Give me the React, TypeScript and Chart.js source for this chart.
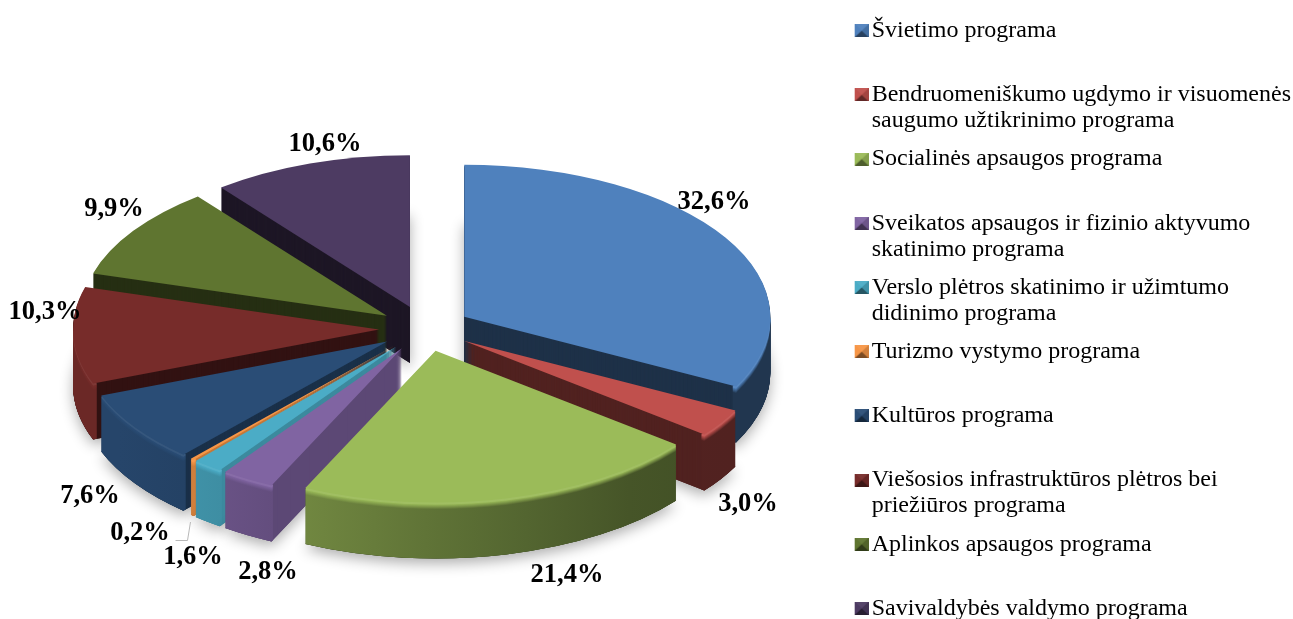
import React, { useEffect, useRef } from "react";
import { Chart, registerables } from "chart.js";

Chart.register(...registerables);

const categories = [
  "Švietimo programa",
  "Bendruomeniškumo ugdymo ir visuomenės saugumo užtikrinimo programa",
  "Socialinės apsaugos programa",
  "Sveikatos apsaugos ir fizinio aktyvumo skatinimo programa",
  "Verslo plėtros skatinimo ir užimtumo didinimo programa",
  "Turizmo vystymo programa",
  "Kultūros programa",
  "Viešosios infrastruktūros plėtros bei priežiūros programa",
  "Aplinkos apsaugos programa",
  "Savivaldybės valdymo programa",
];
const shares = [32.6, 3.0, 21.4, 2.8, 1.6, 0.2, 7.6, 10.3, 9.9, 10.6];

const legendLines = [
  ["Švietimo programa", ""],
  ["Bendruomeniškumo ugdymo ir visuomenės", "saugumo užtikrinimo programa"],
  ["Socialinės apsaugos programa", ""],
  ["Sveikatos apsaugos ir fizinio aktyvumo", "skatinimo programa"],
  ["Verslo plėtros skatinimo ir užimtumo", "didinimo programa"],
  ["Turizmo vystymo programa", ""],
  ["Kultūros programa", ""],
  ["Viešosios infrastruktūros plėtros bei", "priežiūros programa"],
  ["Aplinkos apsaugos programa", ""],
  "Savivaldybės valdymo programa",
];

const sliceColors = ["#4f81bd", "#c0504d", "#9bbb59", "#8064a2", "#4bacc6", "#f79646", "#2a4d76", "#772c2a", "#5f7530", "#4d3b62"];
const wallShade = [0.38, 0.42, 0.4, 0.72, 0.8, 0.8, 0.62, 0.42, 0.4, 0.38];
const labelAnchors = [
  [714, 202], [748, 504], [567, 575], [268, 572], [193, 557],
  [140, 533], [90, 496], [45, 312], [114, 209], [325, 144],
];

const CANVAS_W = 1301;
const CANVAS_H = 640;
const PIE = { cx: 425, cy: 328.5, radius: 306, tilt: 0.496, explode: 46, depth: 56 };
const SERIF = '"Liberation Serif", "Times New Roman", serif';

function rgb(hex: string) {
  return [1, 3, 5].map((i) => parseInt(hex.slice(i, i + 2), 16));
}
function shade(hex: string, m: number) {
  const [r, g, b] = rgb(hex);
  return `rgb(${Math.round(r * m)},${Math.round(g * m)},${Math.round(b * m)})`;
}
function lighten(hex: string, t: number) {
  const [r, g, b] = rgb(hex);
  const f = (v: number) => Math.round(v + (255 - v) * t);
  return `rgb(${f(r)},${f(g)},${f(b)})`;
}
function rimMultiplier(screenX: number) {
  const t = Math.max(0, Math.min(1, (screenX - 100) / 580));
  return 0.9 - 0.48 * t;
}

function legendSwatch(color: string) {
  const c = document.createElement("canvas");
  c.width = 18;
  c.height = 13;
  const g = c.getContext("2d")!;
  g.translate(4, 0);
  const tri = (pts: number[][], fill: string) => {
    g.fillStyle = fill;
    g.beginPath();
    g.moveTo(pts[0][0], pts[0][1]);
    g.lineTo(pts[1][0], pts[1][1]);
    g.lineTo(pts[2][0], pts[2][1]);
    g.closePath();
    g.fill();
  };
  g.fillStyle = color;
  g.fillRect(0, 0, 14, 13);
  const mid = [7, 6.5];
  tri([[0, 0], [14, 0], mid], lighten(color, 0.05));
  tri([[0, 0], [0, 13], mid], color);
  tri([[14, 0], [14, 13], mid], shade(color, 0.85));
  tri([[0, 13], [14, 13], mid], shade(color, 0.5));
  return c;
}

const pie3d = {
  id: "pie3d",
  beforeDatasetDraw(chart: any, args: any) {
    const ctx: CanvasRenderingContext2D = chart.ctx;
    const arcs: any[] = [...args.meta.data];
    const order = arcs
      .map((arc, i) => ({ arc, i, mid: (arc.startAngle + arc.endAngle) / 2 }))
      .sort((a, b) => Math.sin(a.mid) - Math.sin(b.mid));

    for (const { arc, i, mid } of order) {
      const ex = Math.cos(mid) * PIE.explode;
      const ey = Math.sin(mid) * PIE.explode;
      const base = sliceColors[i];
      const place = (lift: number) => {
        ctx.translate(PIE.cx, PIE.cy + lift);
        ctx.scale(1, PIE.tilt);
        ctx.translate(-arc.x + ex, -arc.y + ey);
      };
      const paint = (lift: number, fill: any) => {
        ctx.save();
        place(lift);
        const shim = Object.create(arc);
        shim.innerRadius = 0;
        shim.options = { ...arc.options, backgroundColor: fill, borderWidth: 0 };
        shim.draw(ctx);
        ctx.restore();
      };
      // Only the part of the rim that faces the viewer (canvas angles 0..PI) is visible.
      const frontStart = Math.max(arc.startAngle, 0);
      const frontEnd = Math.min(arc.endAngle, Math.PI);
      const paintRim = (lift: number, fill: any) => {
        if (frontStart >= frontEnd) return;
        ctx.save();
        place(lift);
        const shim = Object.create(arc);
        shim.innerRadius = PIE.radius - 4;
        shim.startAngle = frontStart;
        shim.endAngle = frontEnd;
        shim.circumference = frontEnd - frontStart;
        shim.options = { ...arc.options, backgroundColor: fill, borderWidth: 0 };
        shim.draw(ctx);
        ctx.restore();
      };
      // Horizontal light falloff on the outer rim, blended towards the top colour near the edge.
      const rimFill = (blend: number) => {
        const x0 = arc.x - ex - PIE.radius;
        const g = ctx.createLinearGradient(x0, 0, x0 + 2 * PIE.radius, 0);
        const b = rgb(base);
        for (let s = 0; s <= 6; s++) {
          const m = rimMultiplier(PIE.cx + ex - PIE.radius + (s / 6) * 2 * PIE.radius);
          const c = b.map((v) => Math.round(v * (1 - blend) + v * m * blend));
          g.addColorStop(s / 6, `rgb(${c[0]},${c[1]},${c[2]})`);
        }
        return g;
      };
      const wall = shade(base, wallShade[i]);
      const rim = rimFill(1);

      ctx.save();
      ctx.shadowColor = "rgba(0,0,0,0.32)";
      ctx.shadowBlur = 14;
      ctx.shadowOffsetY = 5;
      paint(PIE.depth, wall);
      ctx.restore();

      for (let lift = PIE.depth; lift >= 1; lift--) paint(lift, wall);
      for (let lift = PIE.depth; lift >= 1; lift -= 0.5) {
        let fill: any = rim;
        if (lift <= 2) fill = lighten(base, 0.06);
        else if (lift <= 7) fill = rimFill((lift - 2) / 5);
        paintRim(lift, fill);
      }
      paint(0, base);
    }
    return false;
  },
  afterDraw(chart: any) {
    const ctx: CanvasRenderingContext2D = chart.ctx;
    ctx.save();
    ctx.strokeStyle = "#b8b8b8";
    ctx.lineWidth = 1;
    ctx.beginPath();
    ctx.moveTo(175.5, 540.5);
    ctx.lineTo(187.5, 540.5);
    ctx.lineTo(190.5, 522);
    ctx.stroke();
    ctx.fillStyle = "#000";
    ctx.font = `bold 26.5px ${SERIF}`;
    ctx.textAlign = "center";
    ctx.textBaseline = "middle";
    shares.forEach((v, i) => {
      const text = v.toFixed(1).replace(".", ",") + "%";
      ctx.fillText(text, labelAnchors[i][0], labelAnchors[i][1]);
    });
    ctx.restore();
  },
};

export default function App() {
  const ref = useRef<HTMLCanvasElement>(null);
  useEffect(() => {
    const chart = new Chart(ref.current!, {
      type: "pie",
      data: {
        labels: categories,
        datasets: [{ data: shares, backgroundColor: sliceColors, borderWidth: 0 }],
      },
      options: {
        responsive: false,
        animation: false,
        radius: PIE.radius,
        layout: { padding: { top: 6.5, right: 0, left: 0, bottom: 0 } },
        plugins: {
          tooltip: { enabled: false },
          legend: {
            position: "right",
            align: "start",
            labels: {
              color: "#000",
              usePointStyle: true,
              pointStyleWidth: 0.1,
              padding: 12.2,
              font: { family: SERIF, size: 24, lineHeight: "26px" },
              generateLabels: () =>
                legendLines.map((text, i) => ({
                  text,
                  fontColor: "#000",
                  pointStyle: legendSwatch(sliceColors[i]),
                  fillStyle: sliceColors[i],
                  strokeStyle: sliceColors[i],
                  lineWidth: 0,
                  hidden: false,
                  index: i,
                })),
            },
          },
        },
      } as any,
      plugins: [pie3d],
    } as any);
    return () => chart.destroy();
  }, []);
  return (
    <div style={{ position: "fixed", left: 0, top: 0, width: 1293, height: 619, overflow: "hidden", background: "#fff" }}>
      <canvas ref={ref} width={CANVAS_W} height={CANVAS_H} style={{ display: "block" }} />
    </div>
  );
}
